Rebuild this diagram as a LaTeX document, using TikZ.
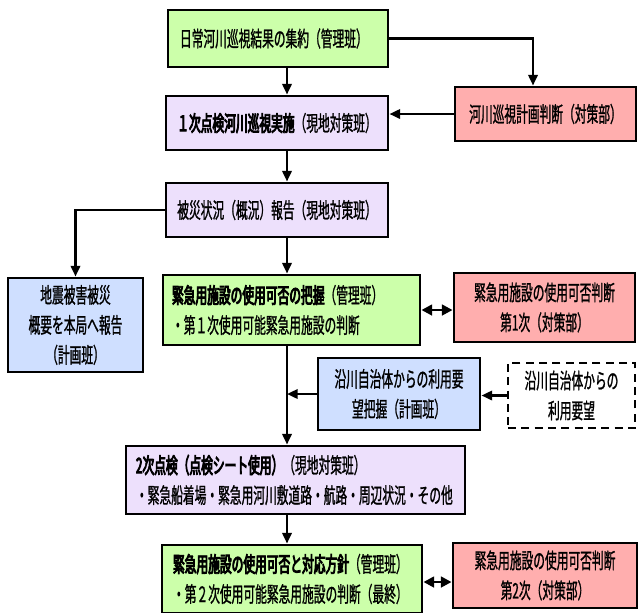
\documentclass[tikz,border=0pt]{standalone}
\usepackage{fontspec}
\setmainfont{Noto Sans CJK JP}[FakeStretch=0.55,FakeBold=1]
\newfontfamily\jpb{Noto Sans CJK JP}[FakeStretch=0.55,FakeBold=4]
\usetikzlibrary{arrows.meta}
\definecolor{gr}{HTML}{CCFFAA}
\definecolor{lv}{HTML}{EDE0FC}
\definecolor{pk}{HTML}{FFAEAE}
\definecolor{bl}{HTML}{CFDFFF}
\tikzset{
  box/.style={draw, line width=2.2pt, rectangle, inner sep=0pt},
  lbox/.style={box, align=left},
  cbox/.style={box, align=center},
  arr/.style={line width=1.8pt, -{Triangle[length=8pt,width=7pt]}},
  dbl/.style={line width=1.9pt, {Triangle[length=8pt,width=8pt]}-{Triangle[length=8pt,width=8pt]}},
}
\begin{document}
\begin{tikzpicture}[x=0.75pt,y=-0.75pt,font=\fontsize{16}{22.5}\selectfont]
\useasboundingbox (0,0) rectangle (638,612);
\clip (0,0) rectangle (638,612);
\fill[white] (0,0) rectangle (638,612);

\node[lbox, fill=gr, minimum width=165pt, minimum height=42.75pt, inner xsep=9pt, text width=147pt] (b1) at (278,38.5) {日常河川巡視結果の集約（管理班）};
\node[cbox, fill=lv, minimum width=166.5pt, minimum height=40.5pt] (b2) at (277,123) {{\jpb １次点検河川巡視実施}（現地対策班）};
\node[cbox, fill=pk, minimum width=135.75pt, minimum height=40.5pt] (b3) at (545.5,114) {河川巡視計画判断（対策部）};
\node[cbox, fill=lv, minimum width=166.5pt, minimum height=40.5pt] (b4) at (277,210) {被災状況（概況）報告（現地対策班）};
\node[cbox, fill=bl, minimum width=101.25pt, minimum height=70.5pt] (b5) at (75.5,325) {地震被害被災\\概要を本局へ報告\\（計画班）};
\node[lbox, fill=gr, minimum width=192.75pt, minimum height=52.5pt, inner xsep=6.75pt, text width=179.25pt] (b6) at (291.5,310) {{\jpb 緊急用施設の使用可否の把握}（管理班）\\・第１次使用可能緊急用施設の判断};
\node[cbox, fill=pk, minimum width=135.75pt, minimum height=51.75pt] (b7) at (544.5,307.5) {緊急用施設の使用可否判断\\第1次（対策部）};
\node[cbox, fill=bl, minimum width=121.5pt, minimum height=54pt] (b8) at (399,394) {沿川自治体からの利用要\\望把握（計画班）};
\node[cbox, fill=white, dash pattern=on 6pt off 4pt, line width=1.8pt, minimum width=95.25pt, minimum height=48.75pt] (b9) at (571.5,395.5) {沿川自治体からの\\利用要望};
\node[lbox, fill=lv, minimum width=254.25pt, minimum height=51pt, inner xsep=7.5pt, text width=239.25pt] (b10) at (295.5,480) {{\jpb 2次点検（点検シート使用）}（現地対策班）\\・緊急船着場・緊急用河川敷道路・航路・周辺状況・その他};
\node[lbox, fill=gr, minimum width=195pt, minimum height=51pt, inner xsep=8.25pt, text width=178.5pt] (b11) at (292,579) {{\jpb 緊急用施設の使用可否と対応方針}（管理班）\\・第２次使用可能緊急用施設の判断（最終）};
\node[cbox, fill=pk, minimum width=138pt, minimum height=48.75pt] (b12) at (545,575.5) {緊急用施設の使用可否判断\\第2次（対策部）};

\coordinate (sp) at (287,0);
\coordinate (c13) at (533,0);
\draw[arr] (b1.south -| sp) -- (b2.north -| sp);
\draw[arr] (b2.south -| sp) -- (b4.north -| sp);
\draw[arr] (b4.south -| sp) -- (b6.north -| sp);
\draw[arr] (b6.south -| sp) -- (b10.north -| sp);
\draw[arr] (b10.south -| sp) -- (b11.north -| sp);
\draw[arr] (b1.east) -| (b3.north -| c13);
\draw[arr] (b3.west) -- (b3.west -| b2.east);
\draw[arr] (b4.west) -| (b5.north);
\draw[dbl] (b6.east) -- (b6.east -| b7.west);
\draw[arr] (b9.west) -- (b9.west -| b8.east);
\draw[arr] (b8.west) -- (b8.west -| sp);
\draw[dbl] ([yshift=-2.25pt]b11.east) -- ([yshift=-2.25pt]b11.east -| b12.west);
\end{tikzpicture}
\end{document}
